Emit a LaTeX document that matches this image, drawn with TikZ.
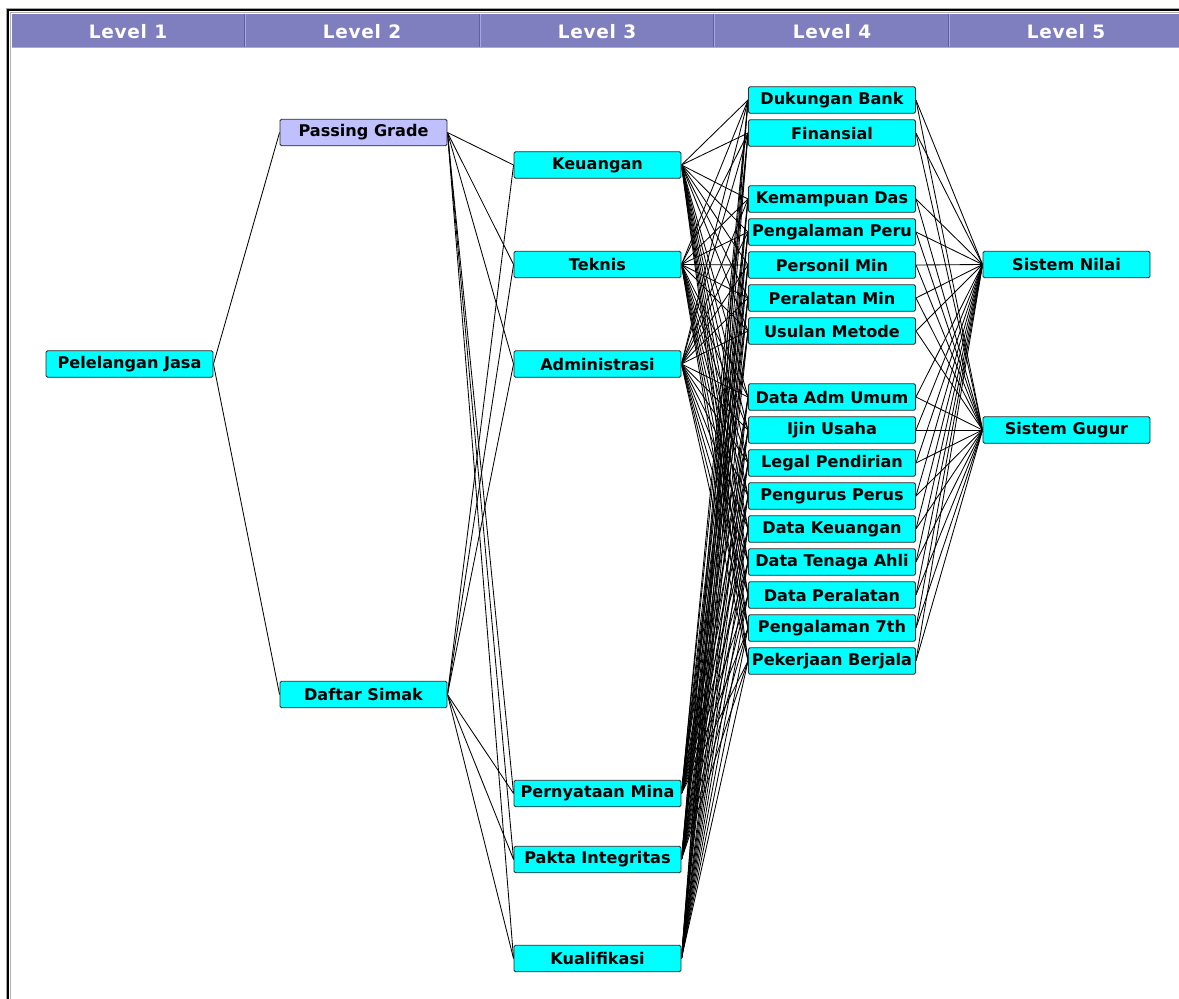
\documentclass[tikz,border=0pt]{standalone}
\usepackage{fontspec}
\usetikzlibrary{backgrounds}
\newfontfamily\nodefont{DejaVu Sans}
\newfontfamily\headfont[LetterSpace=4]{DejaVu Sans}
\definecolor{boxcyan}{HTML}{00FFFF}
\definecolor{boxlav}{HTML}{C0C0FF}
\definecolor{headfill}{HTML}{7F7FBF}
\definecolor{headdark}{HTML}{5F5F9F}
\definecolor{headlight}{HTML}{A8A8E0}
\begin{document}
\begin{tikzpicture}[x=1pt,y=-1pt,
  box/.style={draw=black!85, line width=0.9pt, fill=boxcyan, rounded corners=1.5pt,
    minimum width=167pt, minimum height=26.5pt, inner sep=0pt,
    font=\nodefont\bfseries\fontsize{16.1}{18}\selectfont},
  lavbox/.style={box, fill=boxlav},
  link/.style={line width=0.85pt, black},
  headtext/.style={text=white, inner sep=0pt,
    font=\headfont\bfseries\fontsize{18.5}{20}\selectfont},
  frameline/.style={line width=1.2pt}]
\useasboundingbox (0,0) rectangle (1179,999);

% window frame
\draw[frameline, gray!70] (6.5,999) -- (6.5,8.5) -- (1179,8.5);
\draw[frameline, black] (8,999) -- (8,10) -- (1179,10);
\draw[frameline, gray!60] (10.5,999) -- (10.5,12.5) -- (1179,12.5);

% column header bar
\fill[headfill] (11.5,14) rectangle (1179,48);
\draw[headlight, line width=1pt] (11.5,47.5) -- (1179,47.5);
\foreach \xx in {245,480,714,949} {
  \draw[headdark, line width=1pt] (\xx-0.5,14) -- (\xx-0.5,47);
  \draw[headlight, line width=1pt] (\xx+0.5,14) -- (\xx+0.5,47);
}
\node[headtext] (h1) at (128,32) {Level 1};
\node[headtext] (h2) at (362,32) {Level 2};
\node[headtext] (h3) at (597,32) {Level 3};
\node[headtext] (h4) at (832,32) {Level 4};
\node[headtext] (h5) at (1066,32) {Level 5};

% level 1
\node[box] (l1) at (129.5,364) {Pelelangan Jasa};

% level 2
\node[lavbox] (l2a) at (363.5,132.5) {Passing Grade};
\node[box] (l2b) at (363.5,694.5) {Daftar Simak};

% level 3
\node[box] (l3a) at (597.5,165) {Keuangan};
\node[box] (l3b) at (597.5,264.5) {Teknis};
\node[box] (l3c) at (597.5,364) {Administrasi};
\node[box] (l3d) at (597.5,793.5) {Pernyataan Mina};
\node[box] (l3e) at (597.5,859.5) {Pakta Integritas};
\node[box] (l3f) at (597.5,958.5) {Kualifikasi};

% level 4
\foreach \nm/\yy/\txt in {
  l4a/100/Dukungan Bank, l4b/133/Finansial, l4c/199/Kemampuan Das,
  l4d/232/Pengalaman Peru, l4e/265/Personil Min, l4f/298/Peralatan Min,
  l4g/331/Usulan Metode, l4h/397/Data Adm Umum, l4i/430/Ijin Usaha,
  l4j/463/Legal Pendirian, l4k/496/Pengurus Perus, l4l/529/Data Keuangan,
  l4m/562/Data Tenaga Ahli, l4n/595/Data Peralatan, l4o/628/Pengalaman 7th,
  l4p/661/Pekerjaan Berjala}
  \node[box] (\nm) at (832,\yy) {\txt};

% level 5
\node[box] (l5a) at (1066.5,264.5) {Sistem Nilai};
\node[box] (l5b) at (1066.5,430) {Sistem Gugur};

% connectors, each parent to every child of the next level
\begin{scope}[on background layer]
  \foreach \b in {l2a,l2b}
    \draw[link] (l1.east) -- (\b.west);
  \foreach \a in {l2a,l2b}
    \foreach \b in {l3a,l3b,l3c,l3d,l3e,l3f}
      \draw[link] (\a.east) -- (\b.west);
  \foreach \a in {l3a,l3b,l3c,l3d,l3e,l3f}
    \foreach \b in {l4a,l4b,l4c,l4d,l4e,l4f,l4g,l4h,l4i,l4j,l4k,l4l,l4m,l4n,l4o,l4p}
      \draw[link] (\a.east) -- (\b.west);
  \foreach \a in {l4a,l4b,l4c,l4d,l4e,l4f,l4g,l4h,l4i,l4j,l4k,l4l,l4m,l4n,l4o,l4p}
    \foreach \b in {l5a,l5b}
      \draw[link] (\a.east) -- (\b.west);
\end{scope}
\end{tikzpicture}
\end{document}
